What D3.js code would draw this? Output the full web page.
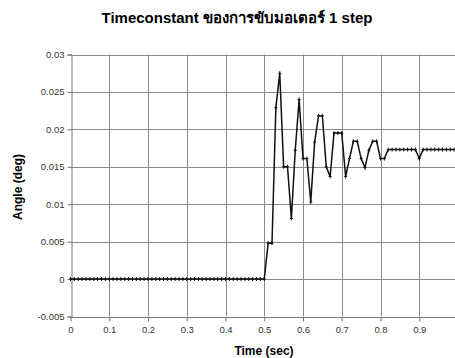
<!DOCTYPE html>
<html>
<head>
<meta charset="utf-8">
<script src="https://cdn.jsdelivr.net/npm/d3@7"></script>
<style>
  body { margin: 0; background: #fff; }
  svg { display: block; font-family: "Liberation Sans", Arial, sans-serif; }
</style>
</head>
<body>
<div id="chart"></div>
<script>
// time (sec), sampled every 0.01 s
var times = [
  0.00, 0.01, 0.02, 0.03, 0.04, 0.05, 0.06, 0.07, 0.08, 0.09,
  0.10, 0.11, 0.12, 0.13, 0.14, 0.15, 0.16, 0.17, 0.18, 0.19,
  0.20, 0.21, 0.22, 0.23, 0.24, 0.25, 0.26, 0.27, 0.28, 0.29,
  0.30, 0.31, 0.32, 0.33, 0.34, 0.35, 0.36, 0.37, 0.38, 0.39,
  0.40, 0.41, 0.42, 0.43, 0.44, 0.45, 0.46, 0.47, 0.48, 0.49,
  0.50, 0.51, 0.52, 0.53, 0.54, 0.55, 0.56, 0.57, 0.58, 0.59,
  0.60, 0.61, 0.62, 0.63, 0.64, 0.65, 0.66, 0.67, 0.68, 0.69,
  0.70, 0.71, 0.72, 0.73, 0.74, 0.75, 0.76, 0.77, 0.78, 0.79,
  0.80, 0.81, 0.82, 0.83, 0.84, 0.85, 0.86, 0.87, 0.88, 0.89,
  0.90, 0.91, 0.92, 0.93, 0.94, 0.95, 0.96, 0.97, 0.98, 0.99
];

// angle (deg)
var angles = [
  0, 0, 0, 0, 0, 0, 0, 0, 0, 0,
  0, 0, 0, 0, 0, 0, 0, 0, 0, 0,
  0, 0, 0, 0, 0, 0, 0, 0, 0, 0,
  0, 0, 0, 0, 0, 0, 0, 0, 0, 0,
  0, 0, 0, 0, 0, 0, 0, 0, 0, 0,
  0, 0.0048, 0.0048, 0.0229, 0.0275, 0.0150, 0.0150, 0.0081, 0.0172, 0.0240,
  0.0161, 0.0161, 0.0103, 0.0183, 0.0218, 0.0218, 0.0150, 0.0137, 0.0195, 0.0195,
  0.0195, 0.0137, 0.0161, 0.0184, 0.0184, 0.0161, 0.0149, 0.0172, 0.0184, 0.0184,
  0.0161, 0.0161, 0.0173, 0.0173, 0.0173, 0.0173, 0.0173, 0.0173, 0.0173, 0.0173,
  0.0161, 0.0173, 0.0173, 0.0173, 0.0173, 0.0173, 0.0173, 0.0173, 0.0173, 0.0173
];

var xTicks = [0, 0.1, 0.2, 0.3, 0.4, 0.5, 0.6, 0.7, 0.8, 0.9];
var xGrid = [0.1, 0.2, 0.3, 0.4, 0.5, 0.6, 0.7, 0.8, 0.9, 1.0];
var yTicks = [-0.005, 0, 0.005, 0.01, 0.015, 0.02, 0.025, 0.03];
var yTickLabels = ['-0.005', '0', '0.005', '0.01', '0.015', '0.02', '0.025', '0.03'];

var chartTitle = 'Timeconstant ของการขับมอเตอร์ 1 step';
var xTitle = 'Time (sec)';
var yTitle = 'Angle (deg)';

var width = 455, height = 358;

var svg = d3.select('#chart')
    .append('svg')
    .attr('width', width)
    .attr('height', height);

svg.append('rect')
    .attr('width', width)
    .attr('height', height)
    .attr('fill', '#fff');

var xScale = d3.scaleLinear().domain([0, 1]).range([70.5, 458]);
var yScale = d3.scaleLinear().domain([-0.005, 0.03]).range([316.5, 54.5]);

var data = times.map(function(t, i) { return { x: t, y: angles[i] }; });

// grid
var grid = svg.append('g').attr('stroke', '#8a8a8a').attr('stroke-width', 1);

grid.selectAll('line.h')
    .data(yTicks)
    .enter()
    .append('line')
    .attr('class', 'h')
    .attr('x1', xScale(0))
    .attr('x2', width)
    .attr('y1', function(d) { return Math.round(yScale(d)) + 0.5; })
    .attr('y2', function(d) { return Math.round(yScale(d)) + 0.5; });

grid.selectAll('line.v')
    .data(xGrid)
    .enter()
    .append('line')
    .attr('class', 'v')
    .attr('y1', yScale(0.03))
    .attr('y2', yScale(-0.005))
    .attr('x1', function(d) { return Math.round(xScale(d)) + 0.5; })
    .attr('x2', function(d) { return Math.round(xScale(d)) + 0.5; });

// y axis
var yAxis = svg.append('g')
    .attr('transform', 'translate(' + (Math.round(xScale(0)) + 0.5) + ',0)')
    .call(d3.axisLeft(yScale)
        .tickValues(yTicks)
        .tickSize(4)
        .tickPadding(3)
        .tickFormat(function(d, i) { return yTickLabels[i]; }));

// x axis
var xAxis = svg.append('g')
    .attr('transform', 'translate(0,' + (Math.round(yScale(-0.005)) + 0.5) + ')')
    .call(d3.axisBottom(xScale)
        .tickValues(xTicks)
        .tickSize(4)
        .tickPadding(5)
        .tickFormat(d3.format('')));

[yAxis, xAxis].forEach(function(ax) {
    ax.select('.domain').attr('stroke', '#777');
    ax.selectAll('.tick line').attr('stroke', '#777');
    ax.selectAll('.tick text')
        .attr('fill', '#333')
        .style('font-size', '9.5px')
        .style('font-family', '"Liberation Sans", Arial, sans-serif');
});
xAxis.select('.domain').attr('d', 'M' + xScale(0) + ',0H' + width);
yAxis.selectAll('.tick text').attr('dy', '0.32em');

// line
var line = d3.line()
    .x(function(d) { return xScale(d.x); })
    .y(function(d) { return yScale(d.y); });

svg.append('path')
    .datum(data)
    .attr('fill', 'none')
    .attr('stroke', '#111')
    .attr('stroke-width', 1.5)
    .attr('d', line);

// markers: small plus signs
var marks = svg.append('g').attr('stroke', '#111').attr('stroke-width', 1);
marks.selectAll('path')
    .data(data)
    .enter()
    .append('path')
    .attr('d', function(d) {
        var cx = xScale(d.x), cy = yScale(d.y);
        return 'M' + (cx - 1.5) + ',' + cy + 'H' + (cx + 1.5) +
               'M' + cx + ',' + (cy - 2) + 'V' + (cy + 2);
    });

// titles
svg.append('text')
    .attr('x', 237)
    .attr('y', 23)
    .attr('text-anchor', 'middle')
    .style('font-size', '15px')
    .style('font-weight', 'bold')
    .attr('fill', '#000')
    .text(chartTitle);

svg.append('text')
    .attr('x', 264)
    .attr('y', 355)
    .attr('text-anchor', 'middle')
    .style('font-size', '12px')
    .style('font-weight', 'bold')
    .attr('fill', '#000')
    .text(xTitle);

svg.append('text')
    .attr('transform', 'translate(22,187) rotate(-90)')
    .attr('text-anchor', 'middle')
    .style('font-size', '12px')
    .style('font-weight', 'bold')
    .attr('fill', '#000')
    .text(yTitle);
</script>
</body>
</html>
